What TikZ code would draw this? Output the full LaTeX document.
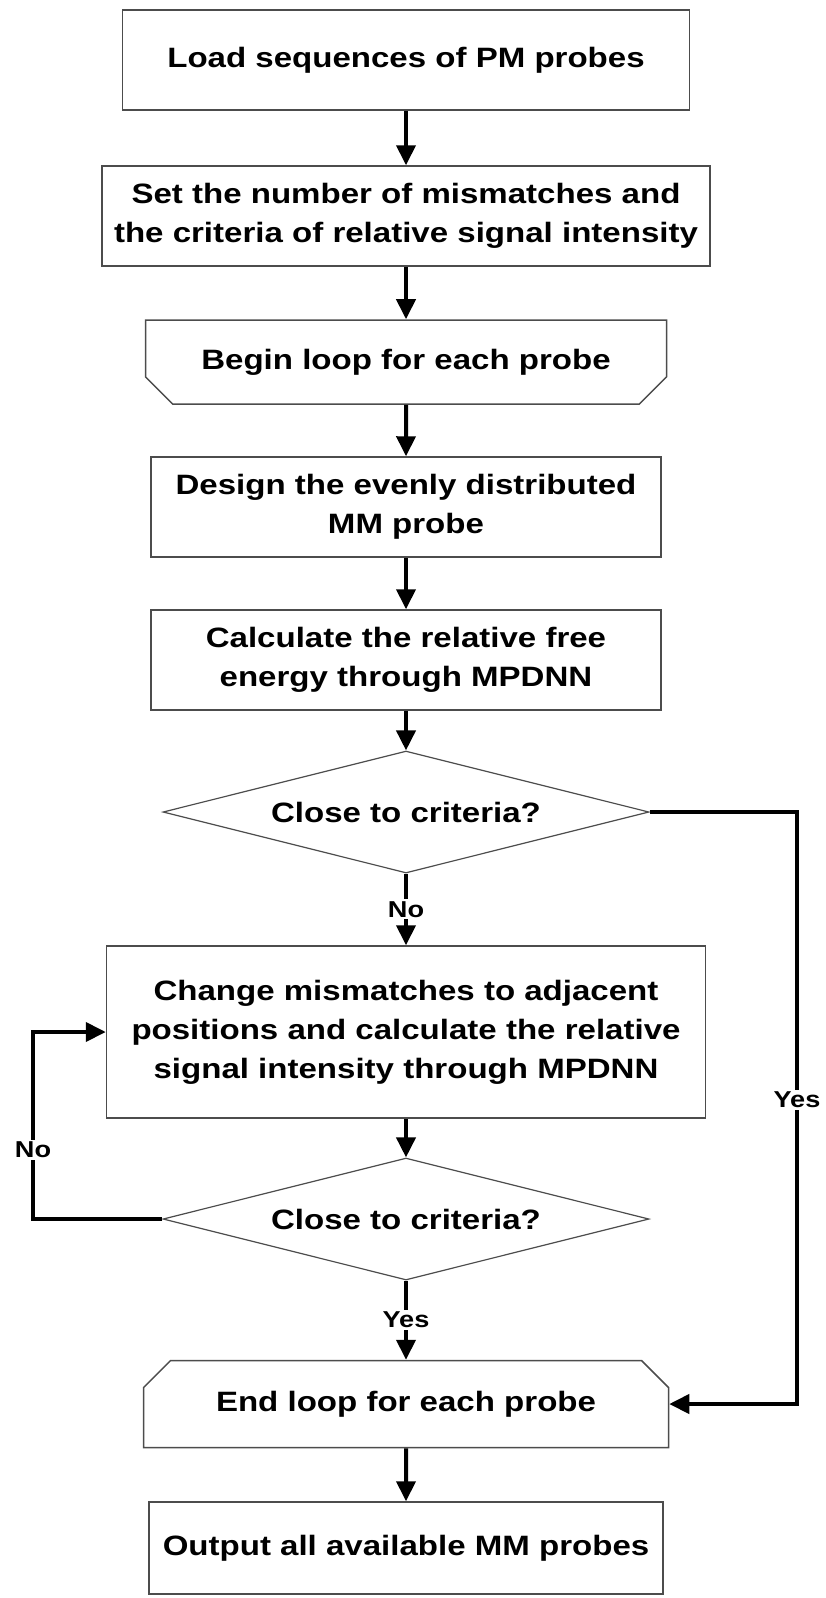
\documentclass[tikz,border=0pt]{standalone}
\usepackage{fontspec}
\newfontfamily\flowfont{Liberation Sans}[FakeStretch=1.18]
\usetikzlibrary{arrows.meta,shapes.geometric,shapes.misc}

\tikzset{
  stepbox/.style={draw=black!70, line width=1.5pt, fill=white, inner sep=0pt,
    align=center, font=\flowfont\bfseries\fontsize{28}{39}\selectfont},
  loopbox/.style={stepbox, chamfered rectangle, chamfered rectangle xsep=14pt,
    chamfered rectangle ysep=14pt},
  decision/.style={stepbox, diamond, aspect=4, line width=1.2pt,
    minimum width=486pt, minimum height=122pt},
  flow/.style={line width=4pt, -{Triangle[length=20pt,width=19pt]}},
  branch/.style={fill=white, inner sep=2pt,
    font=\flowfont\bfseries\fontsize{23}{28}\selectfont}
}

\begin{document}
\begin{tikzpicture}[x=1pt,y=-1pt]
  %%%%% START %%%%%
  \useasboundingbox (0,0) rectangle (825,1598);

  \node[stepbox, minimum width=567pt, minimum height=100pt] (load) at (406,60) {Load sequences of PM probes};
  \node[stepbox, minimum width=608pt, minimum height=100pt] (setup) at (406,216) {Set the number of mismatches and\\the criteria of relative signal intensity};
  \node[loopbox, chamfered rectangle corners={south west,south east}, minimum width=521pt, minimum height=84pt] (beginloop) at (406,362) {Begin loop for each probe};
  \node[stepbox, minimum width=510pt, minimum height=100pt] (design) at (406,507) {Design the evenly distributed\\MM probe};
  \node[stepbox, minimum width=510pt, minimum height=100pt] (calc) at (406,660) {Calculate the relative free\\energy through MPDNN};
  \node[decision] (check1) at (406,812) {Close to criteria?};
  \node[stepbox, minimum width=599pt, minimum height=172pt] (change) at (406,1032) {Change mismatches to adjacent\\positions and calculate the relative\\signal intensity through MPDNN};
  \node[decision] (check2) at (406,1219) {Close to criteria?};
  \node[loopbox, chamfered rectangle corners={north west,north east}, minimum width=525pt, minimum height=87pt] (endloop) at (406,1404) {End loop for each probe};
  \node[stepbox, minimum width=514pt, minimum height=92pt] (output) at (406,1548) {Output all available MM probes};

  \coordinate (yesrail) at (797,812);
  \coordinate (norail) at (33,1219);

  % main line
  \draw[flow] (load) -- (setup);
  \draw[flow] (setup) -- (beginloop);
  \draw[flow] (beginloop) -- (design);
  \draw[flow] (design) -- (calc);
  \draw[flow] (calc) -- (check1);
  \draw[flow] (check1) -- node[branch] {No} (change);
  \draw[flow] (change) -- (check2);
  \draw[flow] (check2) -- node[branch] {Yes} (endloop);
  \draw[flow] (endloop) -- (output);

  % side branches
  \draw[flow] (check1.east) -- (yesrail) |- node[branch, pos=0.243] {Yes} (endloop.east);
  \draw[flow] (check2.west) -- (norail) |- node[branch, pos=0.184] {No} (change.west);
  %%%%% END %%%%%
\end{tikzpicture}
\end{document}
